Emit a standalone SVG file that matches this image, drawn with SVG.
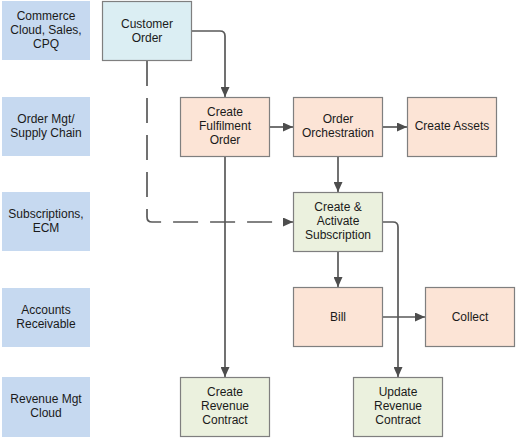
<svg xmlns="http://www.w3.org/2000/svg" width="516" height="438" viewBox="0 0 516 438">
<style>
text{font-family:"Liberation Sans",Arial,sans-serif;font-size:12px;fill:#1a1a1a;text-anchor:middle}
.lane{fill:#c6d9f0}
.box{stroke:#7f7f7f;stroke-width:1.2}
.blue{fill:#dbeef3}
.orange{fill:#fce4d6}
.green{fill:#ebf1de}
.c{fill:none;stroke:#595959;stroke-width:1.7;marker-end:url(#arr)}
.dash{stroke-dasharray:25 12}
</style>
<defs>
<marker id="arr" markerUnits="userSpaceOnUse" markerWidth="10" markerHeight="9" refX="10" refY="4.5" orient="auto">
<path d="M0,0 L10,4.5 L0,9 z" fill="#4d4d4d"/>
</marker>
</defs>
<g id="lanes">
<g id="lane-commerce"><rect class="lane" x="2" y="1" width="88" height="59"/><text x="46" y="20">Commerce</text><text x="46" y="34">Cloud, Sales,</text><text x="46" y="48">CPQ</text></g>
<g id="lane-order"><rect class="lane" x="2" y="97" width="88" height="59"/><text x="46" y="123">Order Mgt/</text><text x="46" y="137">Supply Chain</text></g>
<g id="lane-subs"><rect class="lane" x="2" y="192" width="88" height="59"/><text x="46" y="218">Subscriptions,</text><text x="46" y="232">ECM</text></g>
<g id="lane-ar"><rect class="lane" x="2" y="288" width="88" height="59"/><text x="46" y="314">Accounts</text><text x="46" y="328">Receivable</text></g>
<g id="lane-rev"><rect class="lane" x="2" y="377" width="88" height="60"/><text x="46" y="403">Revenue Mgt</text><text x="46" y="417">Cloud</text></g>
</g>
<g id="connectors">
<path class="c" d="M192,31 H220 Q225,31 225,36 V97"/>
<path class="c dash" d="M147,61 V217 Q147,222 152,222 H293"/>
<path class="c" d="M225,157 V377"/>
<path class="c" d="M270,127 H293"/>
<path class="c" d="M383,127 H407"/>
<path class="c" d="M338,157 V192"/>
<path class="c" d="M338,252 V287"/>
<path class="c" d="M383,222 H393 Q398,222 398,227 V377"/>
<path class="c" d="M383,317 H425"/>
</g>
<g id="customer-order"><rect class="box blue" x="102.5" y="1.5" width="89" height="59"/><text x="147" y="28">Customer</text><text x="147" y="42">Order</text></g>
<g id="create-fulfilment-order"><rect class="box orange" x="180.5" y="97.5" width="89" height="59"/><text x="225" y="116">Create</text><text x="225" y="130">Fulfilment</text><text x="225" y="144">Order</text></g>
<g id="order-orchestration"><rect class="box orange" x="293.5" y="97.5" width="89" height="59"/><text x="338" y="123">Order</text><text x="338" y="137">Orchestration</text></g>
<g id="create-assets"><rect class="box orange" x="407.5" y="97.5" width="89" height="59"/><text x="452" y="130">Create Assets</text></g>
<g id="create-activate-subscription"><rect class="box green" x="293.5" y="192.5" width="89" height="59"/><text x="338" y="211">Create &amp;</text><text x="338" y="225">Activate</text><text x="338" y="239">Subscription</text></g>
<g id="bill"><rect class="box orange" x="293.5" y="287.5" width="89" height="59"/><text x="338" y="321">Bill</text></g>
<g id="collect"><rect class="box orange" x="425.5" y="287.5" width="89" height="59"/><text x="470" y="321">Collect</text></g>
<g id="create-revenue-contract"><rect class="box green" x="180.5" y="377.5" width="89" height="59"/><text x="225" y="396">Create</text><text x="225" y="410">Revenue</text><text x="225" y="424">Contract</text></g>
<g id="update-revenue-contract"><rect class="box green" x="353.5" y="377.5" width="89" height="59"/><text x="398" y="396">Update</text><text x="398" y="410">Revenue</text><text x="398" y="424">Contract</text></g>
</svg>
